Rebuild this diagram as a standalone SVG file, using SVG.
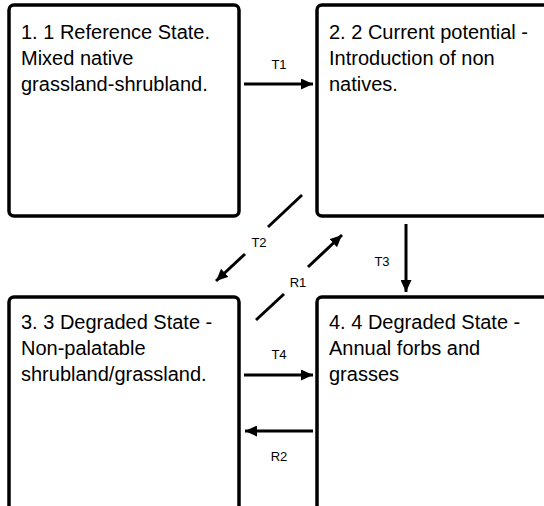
<svg xmlns="http://www.w3.org/2000/svg" width="544" height="506" viewBox="0 0 544 506">
<defs>
<style>
.box{fill:#fff;stroke:#000;stroke-width:3.5}
.t{font-family:"Liberation Sans",Arial,sans-serif;font-size:20px;fill:#000}
.l{font-family:"Liberation Sans",Arial,sans-serif;font-size:13px;fill:#000;text-anchor:middle}
.c{stroke:#000;stroke-width:3;fill:none}
</style>
<marker id="ah" viewBox="0 0 12 11" refX="12" refY="5.5" markerWidth="12" markerHeight="11" markerUnits="userSpaceOnUse" orient="auto">
<path d="M0,0 L12,5.5 L0,11 Z" fill="#000"/>
</marker>
</defs>
<rect width="544" height="506" fill="#fff"/>
<g id="node1">
<rect class="box" x="9" y="5" width="230" height="211" rx="5"/>
<text class="t" x="21" y="39">1. 1 Reference State.</text>
<text class="t" x="21" y="65">Mixed native</text>
<text class="t" x="21" y="91">grassland-shrubland.</text>
</g>
<g id="node2">
<rect class="box" x="317" y="5" width="250" height="211" rx="5"/>
<text class="t" x="329" y="39">2. 2 Current potential -</text>
<text class="t" x="329" y="65">Introduction of non</text>
<text class="t" x="329" y="91">natives.</text>
</g>
<g id="node3">
<rect class="box" x="9" y="297" width="230" height="230" rx="5"/>
<text class="t" x="21" y="329">3. 3 Degraded State -</text>
<text class="t" x="21" y="355">Non-palatable</text>
<text class="t" x="21" y="381">shrubland/grassland.</text>
</g>
<g id="node4">
<rect class="box" x="317" y="297" width="250" height="230" rx="5"/>
<text class="t" x="329" y="329">4. 4 Degraded State -</text>
<text class="t" x="329" y="355">Annual forbs and</text>
<text class="t" x="329" y="381">grasses</text>
</g>
<g id="connectors">
<line class="c" x1="244" y1="84" x2="313" y2="84" marker-end="url(#ah)"/>
<text class="l" x="279" y="69">T1</text>
<line class="c" x1="302" y1="195" x2="268" y2="227"/>
<line class="c" x1="245" y1="254" x2="216" y2="281" marker-end="url(#ah)"/>
<text class="l" x="259" y="247">T2</text>
<line class="c" x1="256" y1="320" x2="284" y2="294"/>
<line class="c" x1="308" y1="267" x2="342" y2="235" marker-end="url(#ah)"/>
<text class="l" x="298" y="287">R1</text>
<line class="c" x1="406" y1="224" x2="406" y2="292" marker-end="url(#ah)"/>
<text class="l" x="382" y="266">T3</text>
<line class="c" x1="244" y1="375" x2="313" y2="375" marker-end="url(#ah)"/>
<text class="l" x="279" y="359">T4</text>
<line class="c" x1="313" y1="431" x2="245" y2="431" marker-end="url(#ah)"/>
<text class="l" x="279" y="461">R2</text>
</g>
</svg>
